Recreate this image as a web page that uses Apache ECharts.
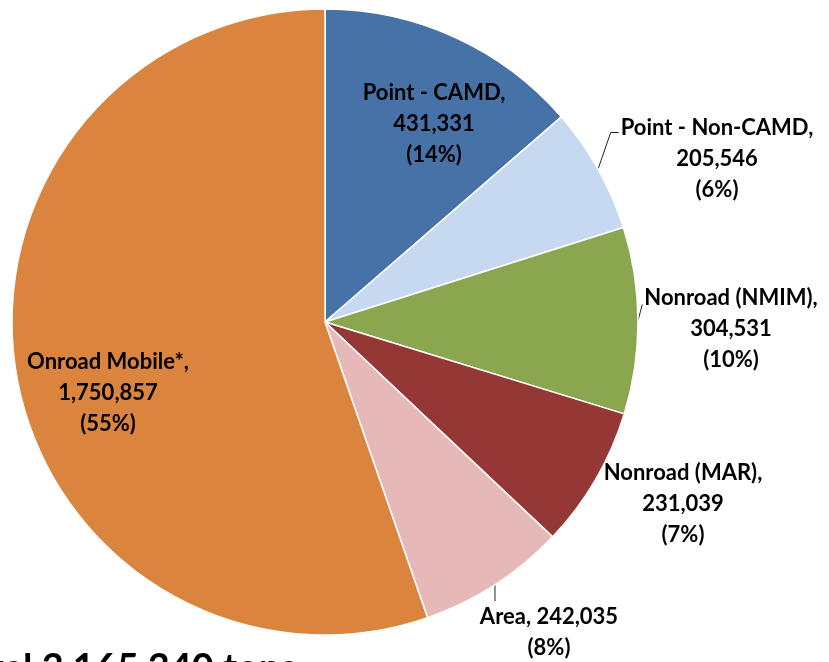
<!DOCTYPE html>
<html>
<head>
<meta charset="utf-8">
<script src="https://cdn.jsdelivr.net/npm/echarts@6/dist/echarts.min.js"></script>
<style>
html, body { margin: 0; padding: 0; background: #fff; }
#box { width: 829px; height: 662px; }
</style>
</head>
<body>
<div id="box"></div>
<script>
var categories = ['Point - CAMD', 'Point - Non-CAMD', 'Nonroad (NMIM)', 'Nonroad (MAR)', 'Area', 'Onroad Mobile*'];
var tons = [431331, 205546, 304531, 231039, 242035, 1750857];
var totalText = 'Total 3,165,340 tons';

var colors = ['#4672A8', '#C6D9F0', '#8AA64E', '#953735', '#E6B9B8', '#DB843D'];
// where each label block is centred (px) and how its leader line is drawn
var labelSpots = [[434, 124], [717, 159], [731, 329], [683, 504], [549, 632], [108, 393]];
var lineKind = [null, 'elbow', 'short', null, 'drop', null];

function fmt(n) {
	return String(n).replace(/\B(?=(\d{3})+(?!\d))/g, ',');
}

var chart = echarts.init(document.getElementById('box'));

var seriesData = categories.map(function (name, i) {
	return {
		name: name,
		value: tons[i],
		itemStyle: { color: colors[i] },
		label: { position: lineKind[i] ? 'outside' : 'inside' },
		labelLine: { show: !!lineKind[i] }
	};
});

var option = {
	animation: false,
	graphic: [{
		type: 'text',
		x: -50,
		y: 650,
		style: {
			text: totalText,
			fontFamily: 'Lato',
			fontWeight: 'bold',
			fontSize: 38,
			fill: '#000',
			verticalAlign: 'top'
		}
	}],
	series: [{
		type: 'pie',
		center: [325, 322],
		radius: 313,
		startAngle: 90,
		clockwise: true,
		avoidLabelOverlap: false,
		silent: true,
		data: seriesData,
		itemStyle: { borderColor: '#fff', borderWidth: 1.5 },
		label: {
			show: true,
			color: '#000',
			fontFamily: 'Lato',
			fontWeight: 'bold',
			fontSize: 22,
			lineHeight: 31,
			align: 'center',
			formatter: function (p) {
				var pct = '(' + Math.round(p.percent) + '%)';
				if (p.dataIndex === 4) return p.name + ', ' + fmt(p.value) + '\n' + pct;
				return p.name + ',\n' + fmt(p.value) + '\n' + pct;
			}
		},
		labelLine: {
			length: 10,
			length2: 10,
			lineStyle: { color: '#222', width: 1 }
		},
		labelLayout: function (params) {
			var i = params.dataIndex;
			var s = labelSpots[i];
			var out = { x: s[0], y: s[1], align: 'center', verticalAlign: 'middle' };
			var kind = lineKind[i];
			if (kind && params.labelLinePoints) {
				var p0 = params.labelLinePoints[0];
				var w = params.labelRect.width, h = params.labelRect.height;
				var left = s[0] - w / 2, top = s[1] - h / 2;
				var p1, p2;
				if (kind === 'elbow') {
					p2 = [left - 2, top + 20];
					p1 = [p2[0] - 8, p2[1]];
				} else if (kind === 'short') {
					p2 = [left - 2, top + 22];
					p1 = p2;
				} else {
					p2 = [p0[0], top];
					p1 = p2;
				}
				out.labelLinePoints = [p0, p1, p2];
			}
			return out;
		}
	}]
};

chart.setOption(option);
</script>
</body>
</html>
